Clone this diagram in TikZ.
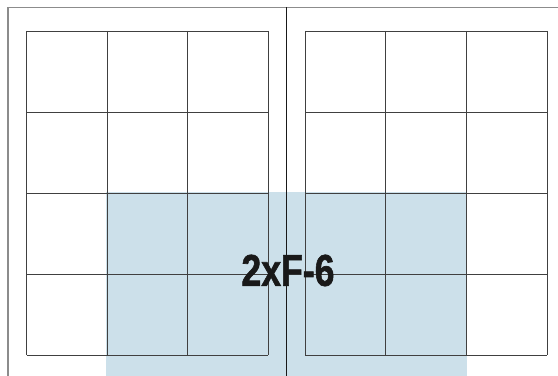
\documentclass[tikz,border=0pt]{standalone}
\usepackage{fontspec}
\setmainfont{Liberation Sans}
\newfontfamily\labelfont[FakeBold=1.5]{Liberation Sans Bold}
\definecolor{shadeblue}{RGB}{204,224,234}
\tikzset{
  gridline/.style={
    draw=black!75,
    line width=0.75pt
  },
  frameline/.style={
    draw=black!45,
    line width=1.2pt
  },
  spine/.style={
    draw=black!90,
    line width=0.8pt
  },
  shaded/.style={
    fill=shadeblue
  },
  pagelabel/.style={
    inner sep=0,
    xscale=0.8,
    text=black!90,
    font=\labelfont\fontsize{38}{38}\selectfont
  }
}
\begin{document}
\begin{tikzpicture}[x=0.03cm,y=-0.03cm]
        \useasboundingbox (0,0) rectangle (558,376);
        \fill[shaded] (106,192) rectangle (467,376);
        % left page grid
        \foreach \i in {0,1,2,3}{
                \draw[gridline] (26.5+80.5*\i,31) -- (26.5+80.5*\i,355);
                \draw[gridline] (305+80.7*\i,31) -- (305+80.7*\i,355);
            }
        \foreach \j in {0,...,4}{
                \draw[gridline] (26.5,31+81*\j) -- (268,31+81*\j);
                \draw[gridline] (305,31+81*\j) -- (547,31+81*\j);
            }
        \coordinate (topleft) at (8,7.5);
        \coordinate (topright) at (558,7.5);
        \coordinate (bottomleft) at (8,376);
        \coordinate (spinetop) at (286.5,7.5);
        \coordinate (spinebottom) at (286.5,376);
        \draw[frameline] (bottomleft) -- (topleft) -- (topright);
        \draw[spine] (spinetop) -- (spinebottom);
        \node[pagelabel] (label) at (288,270.5) {2xF-6};
    \end{tikzpicture}
\end{document}
